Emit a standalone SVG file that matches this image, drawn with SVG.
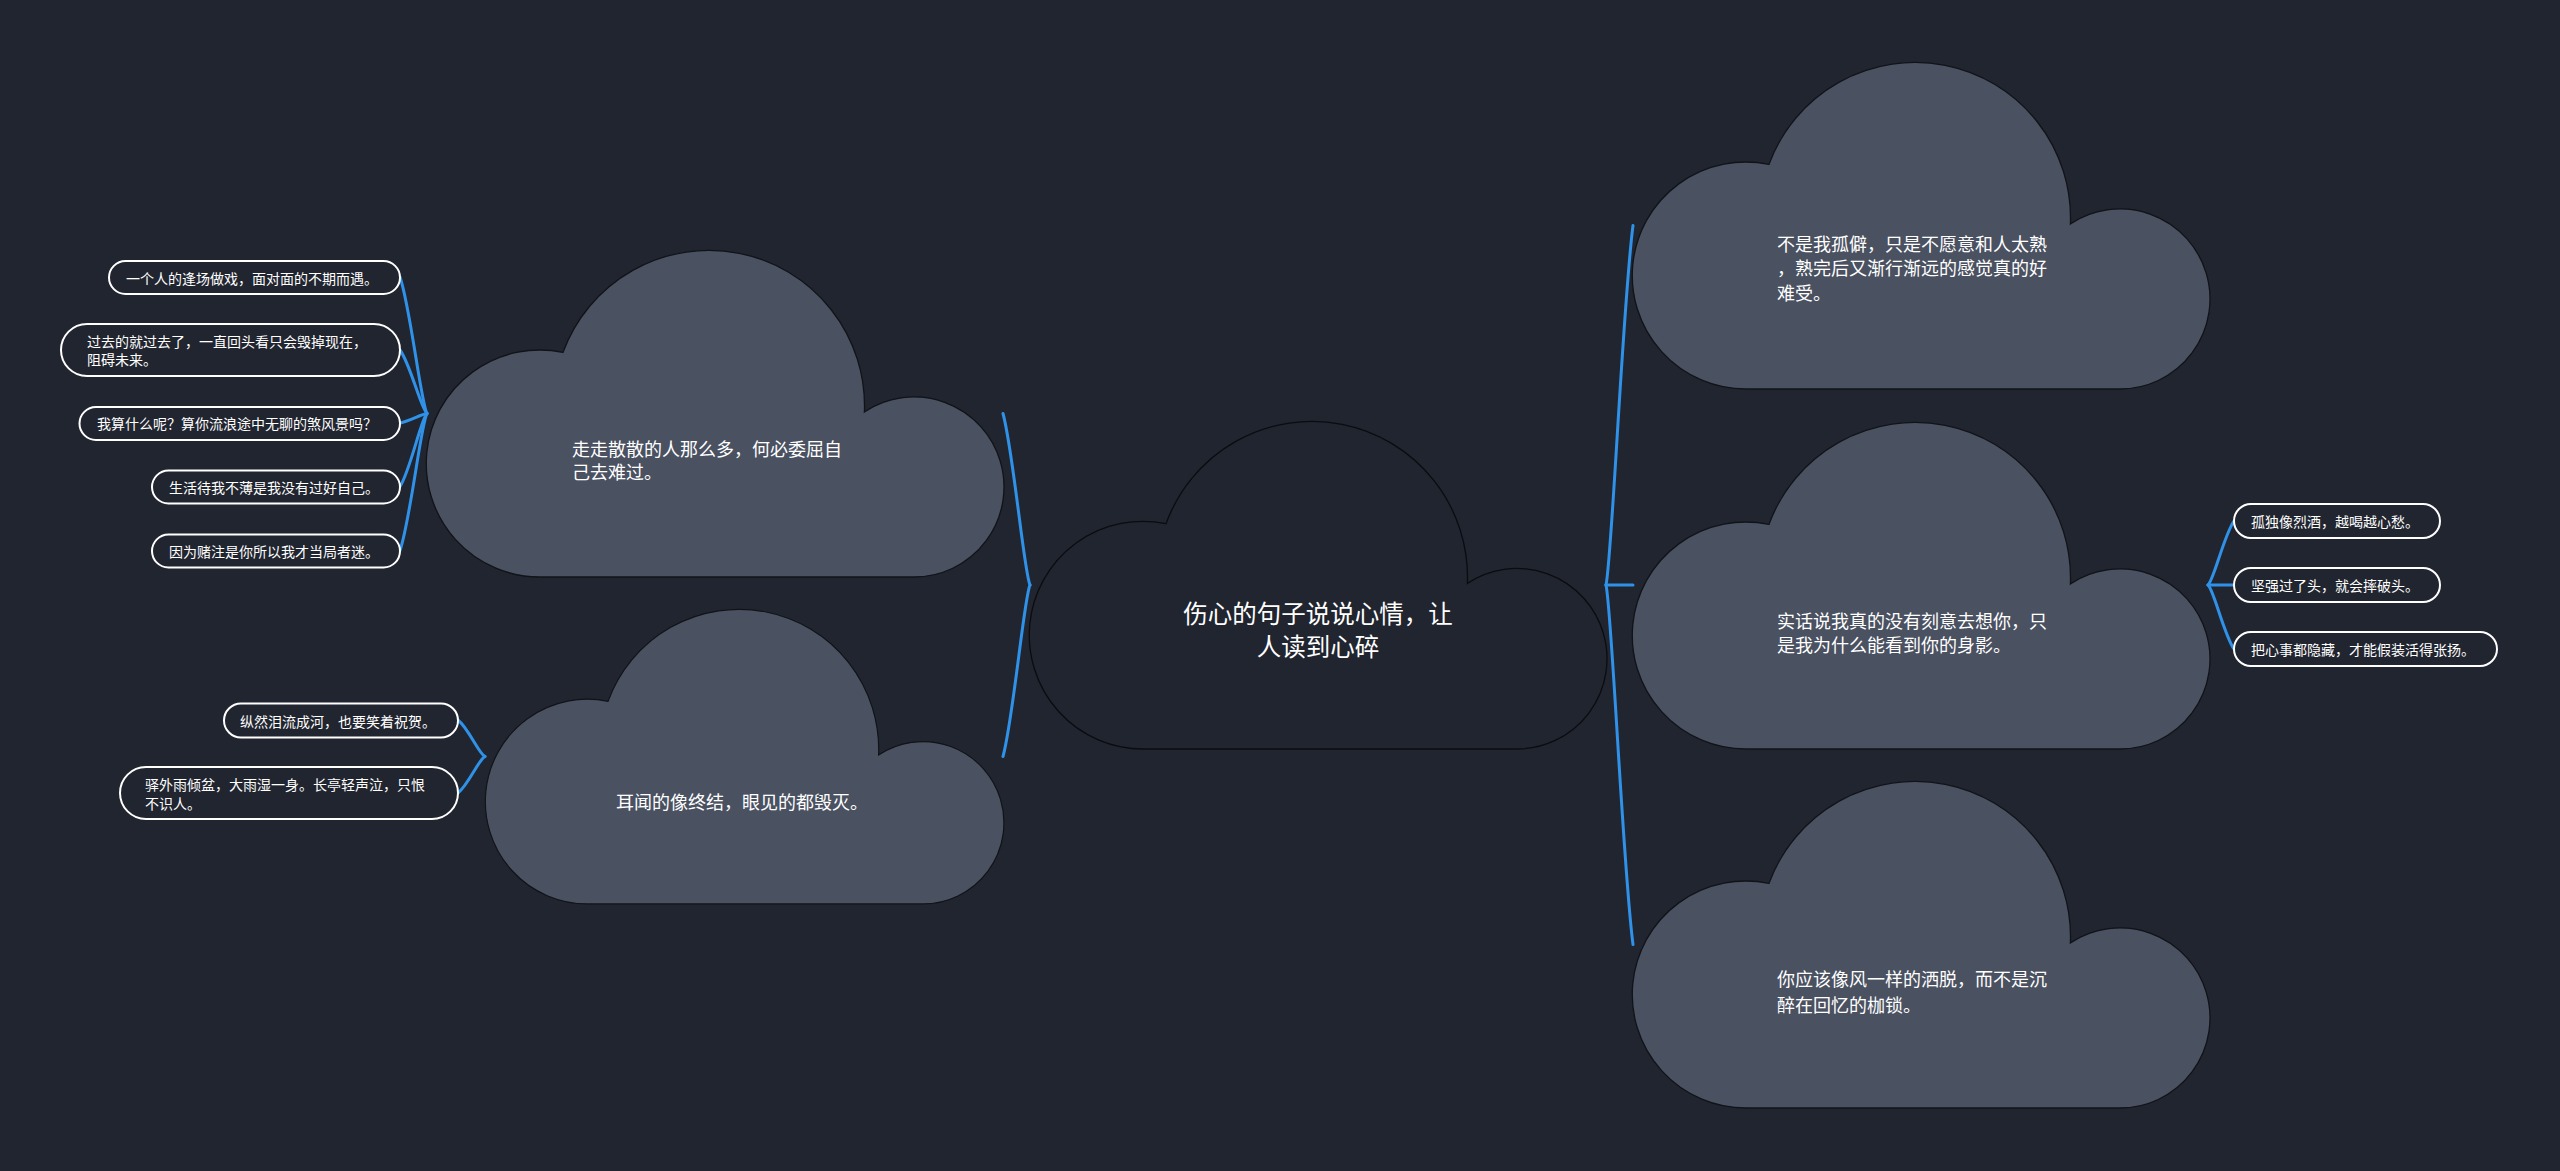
<svg xmlns="http://www.w3.org/2000/svg" width="2560" height="1171" viewBox="0 0 2560 1171">
  <defs>
    <path id="cloud" d="M113,327 A113.5,113.5 0 1 1 136,102.4 A155.5,155.5 0 0 1 437.4,161.9 A90,90 0 1 1 487,327 Z"/>
  </defs>
  <style>
    .bg { fill: #21252f; }
    .cloud { fill: #4a5161; stroke: #111318; stroke-width: 1.3; }
    .root { fill: #21252f; stroke: #0b0c10; stroke-width: 1.3; }
    .leaf { fill: #21252f; stroke: #ffffff; stroke-width: 2; }
    .t { font-family: "Noto Sans CJK SC", "Noto Sans", sans-serif; fill: #ffffff; }
    .t18 { font-size: 18px; }
    .t14 { font-size: 14px; }
    .t24 { font-size: 24.5px; text-anchor: middle; }
    .conn path { fill: none; stroke: #2f92e8; stroke-width: 3; stroke-linecap: round; }
  </style>
  <rect class="bg" x="0" y="0" width="2560" height="1171"/>

  <g id="connectors" class="conn">
    <path d="M1606,585 C1611.9,559.8 1622.7,304.6 1633,225.5"/>
    <path d="M1606,585 L1633,585"/>
    <path d="M1606,585 C1611.9,610.2 1622.7,865.4 1633,944.5"/>
    <path d="M1030,585 C1024.1,573 1013.3,451.2 1003,413.5"/>
    <path d="M1030,585 C1024.1,597 1013.3,718.8 1003,756.5"/>
    <path d="M427,413.5 C421.1,404 410.3,307 400,277"/>
    <path d="M427,413.5 C421.1,409 410.3,364 400,350"/>
    <path d="M427,413.5 C421.1,414.2 410.3,420.9 400,423"/>
    <path d="M427,413.5 C421.1,418.6 410.3,470.4 400,486.5"/>
    <path d="M427,413.5 C421.1,423.1 410.3,520.4 400,550.5"/>
    <path d="M485,756.5 C479,754 468.3,728 458,720"/>
    <path d="M485,756.5 C479,759 468.3,785 458,793"/>
    <path d="M2208,585 C2213.7,580.5 2224.1,535 2234,521"/>
    <path d="M2208,585 L2234,585"/>
    <path d="M2208,585 C2213.7,589.5 2224.1,635 2234,649"/>
  </g>

  <g id="root">
    <use href="#cloud" class="root" transform="translate(1030,421) scale(1,1.003)"/>
    <text class="t t24" x="1318" y="622.5">伤心的句子说说心情，让</text>
    <text class="t t24" x="1318" y="656">人读到心碎</text>
  </g>

  <g id="node-zouzou">
    <use href="#cloud" class="cloud" transform="translate(427,250)"/>
    <text class="t t18" x="572" y="456">走走散散的人那么多，何必委屈自</text>
    <text class="t t18" x="572" y="479">己去难过。</text>
  </g>

  <g id="node-erwen">
    <use href="#cloud" class="cloud" transform="translate(486,609) scale(0.8976,0.902)"/>
    <text class="t t18" x="616" y="809">耳闻的像终结，眼见的都毁灭。</text>
  </g>

  <g id="node-bushi">
    <use href="#cloud" class="cloud" transform="translate(1633,62)"/>
    <text class="t t18" x="1777" y="251">不是我孤僻，只是不愿意和人太熟</text>
    <text class="t t18" x="1777" y="275">，熟完后又渐行渐远的感觉真的好</text>
    <text class="t t18" x="1777" y="299.5">难受。</text>
  </g>

  <g id="node-shihua">
    <use href="#cloud" class="cloud" transform="translate(1633,422)"/>
    <text class="t t18" x="1777" y="628">实话说我真的没有刻意去想你，只</text>
    <text class="t t18" x="1777" y="652">是我为什么能看到你的身影。</text>
  </g>

  <g id="node-niying">
    <use href="#cloud" class="cloud" transform="translate(1633,781)"/>
    <text class="t t18" x="1777" y="986">你应该像风一样的洒脱，而不是沉</text>
    <text class="t t18" x="1777" y="1012">醉在回忆的枷锁。</text>
  </g>

  <g id="leaf-l1">
    <rect class="leaf" x="109" y="261" width="291" height="33" rx="16.5"/>
    <text class="t t14" x="126" y="283.6">一个人的逢场做戏，面对面的不期而遇。</text>
  </g>
  <g id="leaf-l2">
    <rect class="leaf" x="61" y="324" width="339" height="52" rx="26"/>
    <text class="t t14" x="87" y="347">过去的就过去了，一直回头看只会毁掉现在，</text>
    <text class="t t14" x="87" y="365.3">阻碍未来。</text>
  </g>
  <g id="leaf-l3">
    <rect class="leaf" x="79.5" y="407" width="320.5" height="33" rx="16.5"/>
    <text class="t t14" x="97" y="428.6">我算什么呢？算你流浪途中无聊的煞风景吗？</text>
  </g>
  <g id="leaf-l4">
    <rect class="leaf" x="152" y="470.5" width="248" height="33" rx="16.5"/>
    <text class="t t14" x="169" y="492.6">生活待我不薄是我没有过好自己。</text>
  </g>
  <g id="leaf-l5">
    <rect class="leaf" x="152" y="534.5" width="248" height="33" rx="16.5"/>
    <text class="t t14" x="169" y="557">因为赌注是你所以我才当局者迷。</text>
  </g>

  <g id="leaf-e1">
    <rect class="leaf" x="224" y="703.5" width="234" height="34" rx="17"/>
    <text class="t t14" x="240" y="727">纵然泪流成河，也要笑着祝贺。</text>
  </g>
  <g id="leaf-e2">
    <rect class="leaf" x="120" y="767" width="338" height="52" rx="26"/>
    <text class="t t14" x="145" y="790.3">驿外雨倾盆，大雨湿一身。长亭轻声泣，只恨</text>
    <text class="t t14" x="145" y="809.3">不识人。</text>
  </g>

  <g id="leaf-r1">
    <rect class="leaf" x="2234" y="504" width="206" height="34" rx="17"/>
    <text class="t t14" x="2251" y="527">孤独像烈酒，越喝越心愁。</text>
  </g>
  <g id="leaf-r2">
    <rect class="leaf" x="2234" y="568" width="206" height="34" rx="17"/>
    <text class="t t14" x="2251" y="591">坚强过了头，就会摔破头。</text>
  </g>
  <g id="leaf-r3">
    <rect class="leaf" x="2234" y="632" width="263" height="34" rx="17"/>
    <text class="t t14" x="2251" y="654.6">把心事都隐藏，才能假装活得张扬。</text>
  </g>
</svg>
